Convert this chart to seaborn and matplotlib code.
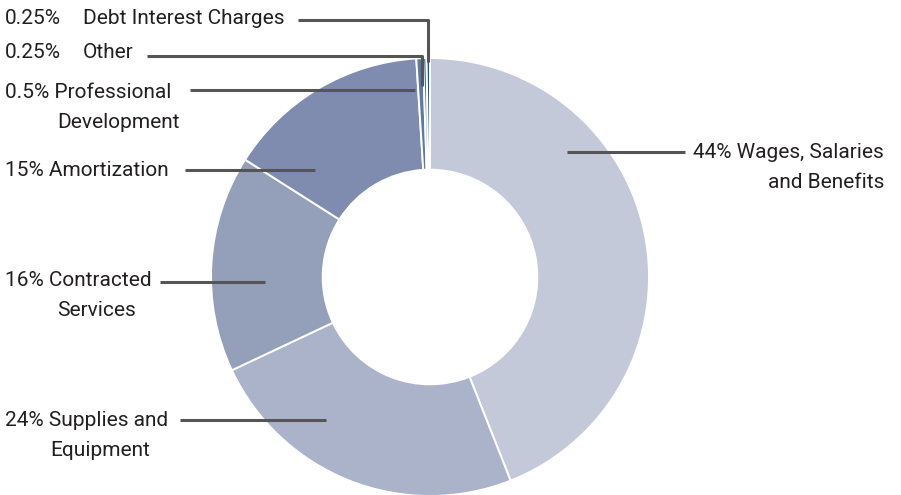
import matplotlib
matplotlib.use("Agg")
import matplotlib.pyplot as plt
import seaborn as sns

# expense categories, clockwise from 12 o'clock
categories = ["Wages, Salaries and Benefits", "Supplies and Equipment", "Contracted Services",
              "Amortization", "Professional Development", "Other", "Debt Interest Charges"]
shares = [44, 24, 16, 15, 0.5, 0.25, 0.25]
pct_labels = ["44%", "24%", "16%", "15%", "0.5%", "0.25%", "0.25%"]
colors = ["#c4c9da", "#abb3cb", "#949fba", "#7f8caf", "#5d79a8", "#3f6fa3", "#17578c"]

sns.set_theme(style="white")
plt.rcParams["font.family"] = ["Roboto", "DejaVu Sans"]

W, H = 901, 495
fig = plt.figure(figsize=(9.01, 4.95), dpi=100)
ax = fig.add_axes([0, 0, 1, 1])

cx, cy, R = 430, H - 277, 219
ax.pie(shares, colors=colors, startangle=90, counterclock=False, radius=R, center=(cx, cy),
       wedgeprops=dict(width=R * 0.51, edgecolor="white", linewidth=1.4))
ax.set_xlim(0, W)
ax.set_ylim(0, H)
ax.set_aspect("equal")
ax.axis("off")

fs = 15
tc = "#231f20"
lc = "#555555"
lw = 2.2

def txt(x, y, s, ha="left"):
    ax.text(x, H - y, s, fontsize=fs, color=tc, ha=ha, va="center")

def line(pts):
    ax.plot([p[0] for p in pts], [H - p[1] for p in pts], color=lc, lw=lw, solid_capstyle="butt")

# left-side labels
txt(5, 18, pct_labels[6]); txt(83, 18, categories[6])
line([(298, 20), (428, 20), (428, 62)])
txt(5, 53, pct_labels[5]); txt(83, 53, categories[5])
line([(147, 56), (422, 56), (422, 86)])
txt(5, 92, pct_labels[4] + " Professional"); txt(57, 122, "Development")
line([(190, 90), (415, 90)])
txt(5, 170, pct_labels[3] + " " + categories[3])
line([(185, 170), (315, 170)])
txt(5, 281, pct_labels[2] + " Contracted"); txt(57, 311, "Services")
line([(160, 282), (265, 282)])
txt(5, 420, pct_labels[1] + " Supplies and"); txt(50, 450, "Equipment")
line([(180, 420), (326, 420)])

# right-side label
txt(884, 152, pct_labels[0] + " Wages, Salaries", ha="right")
txt(884, 182, "and Benefits", ha="right")
line([(567, 152), (685, 152)])

fig.savefig("out.png", dpi=100)
